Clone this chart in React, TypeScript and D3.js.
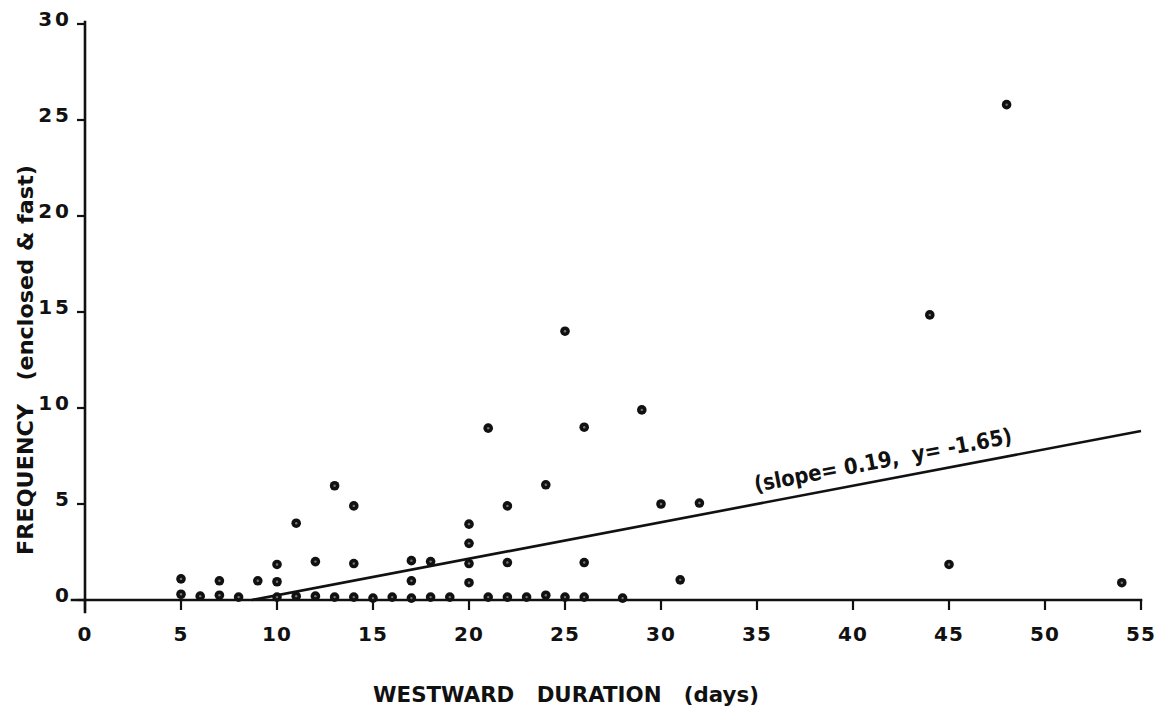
import React, { useEffect } from "react";
import * as d3 from "d3";

// Observed events: westward duration (days) and frequency (enclosed & fast)
const westwardDays = [
  5, 5, 6, 7, 7, 8, 9, 10, 10, 10, 11, 11, 12, 12, 13, 13, 14, 14, 14, 15, 16,
  17, 17, 17, 18, 18, 19, 20, 20, 20, 20, 21, 21, 22, 22, 22, 23, 24, 24, 25,
  25, 26, 26, 26, 28, 29, 30, 31, 32, 44, 45, 48, 54,
];
const frequency = [
  1.1, 0.3, 0.2, 1.0, 0.25, 0.15, 1.0, 1.85, 0.95, 0.15, 4.0, 0.2, 2.0, 0.2,
  5.95, 0.15, 4.9, 1.9, 0.15, 0.1, 0.15, 2.05, 1.0, 0.1, 2.0, 0.15, 0.15, 3.95,
  2.95, 1.9, 0.9, 8.95, 0.15, 4.9, 1.95, 0.15, 0.15, 6.0, 0.25, 14.0, 0.15, 9.0,
  1.95, 0.15, 0.1, 9.9, 5.0, 1.05, 5.05, 14.85, 1.85, 25.8, 0.9,
];

// Least-squares fit reported on the chart
const fitSlope = 0.19;
const fitIntercept = -1.65;
const fitLabel = "(slope= 0.19,  y= -1.65)";

const xTicks = [0, 5, 10, 15, 20, 25, 30, 35, 40, 45, 50, 55];
const yTicks = [0, 5, 10, 15, 20, 25, 30];

const xTitle = "WESTWARD   DURATION   (days)";
const yTitle = "FREQUENCY   (enclosed & fast)";

const W = 1164;
const H = 719;
const FONT = "'DejaVu Sans', Verdana, sans-serif";
const INK = "#111";

export default function App() {
  useEffect(() => {
    document.body.style.margin = "0";
  }, []);

  const x = d3.scaleLinear().domain([0, 55]).range([85, 1141]);
  const y = d3.scaleLinear().domain([0, 30]).range([600, 24]);

  // regression segment from its x-intercept to the right edge
  const xStart = -fitIntercept / fitSlope;
  const fitPts: [number, number][] = [
    [xStart, 0],
    [55, fitSlope * 55 + fitIntercept],
  ];
  const fitLine = d3
    .line<[number, number]>()
    .x((d) => x(d[0]))
    .y((d) => y(d[1]))(fitPts) as string;

  // label placement along the fit line
  const labelX0 = 35.05;
  const lx = x(labelX0);
  const ly = y(fitSlope * labelX0 + fitIntercept);
  const angle =
    (Math.atan2(y(fitSlope * 55) - y(0), x(55) - x(0)) * 180) / Math.PI;

  return (
    <svg
      width={W}
      height={H}
      viewBox={`0 0 ${W} ${H}`}
      style={{ display: "block", background: "#fff" }}
    >
      {/* axes */}
      <g stroke={INK} strokeWidth={2.6} strokeLinecap="square">
        <line x1={x(0) - 13} x2={x(55)} y1={y(0)} y2={y(0)} />
        <line x1={x(0)} x2={x(0)} y1={y(30) - 2} y2={y(0) + 12} />
      </g>
      {/* x ticks */}
      <g>
        {xTicks.map((t) => (
          <g key={`xt${t}`}>
            <line
              x1={x(t)}
              x2={x(t)}
              y1={y(0)}
              y2={y(0) + 10}
              stroke={INK}
              strokeWidth={2.2}
            />
            <text
              x={x(t)}
              y={y(0) + 41}
              textAnchor="middle"
              fontFamily={FONT}
              fontWeight="bold"
              fontSize={20}
              letterSpacing={1}
              fill={INK}
            >
              {t}
            </text>
          </g>
        ))}
      </g>
      {/* y ticks */}
      <g>
        {yTicks.map((t) => (
          <g key={`yt${t}`}>
            <line
              x1={x(0) - 8}
              x2={x(0)}
              y1={y(t)}
              y2={y(t)}
              stroke={INK}
              strokeWidth={2.2}
            />
            <text
              x={x(0) - 13}
              y={y(t) + 2}
              textAnchor="end"
              fontFamily={FONT}
              fontWeight="bold"
              fontSize={20}
              letterSpacing={3}
              fill={INK}
            >
              {t}
            </text>
          </g>
        ))}
      </g>

      {/* regression line */}
      <path d={fitLine} fill="none" stroke={INK} strokeWidth={2.6} />
      <text
        transform={`translate(${lx},${ly}) rotate(${angle}) translate(0,-12)`}
        fontFamily={FONT}
        fontWeight="bold"
        fontSize={22}
        textLength={262}
        lengthAdjust="spacingAndGlyphs"
        style={{ whiteSpace: "pre" }}
        fill={INK}
      >
        {fitLabel}
      </text>

      {/* observations */}
      <g>
        {westwardDays.map((d, i) => (
          <g key={`p${i}`}>
            <circle cx={x(d)} cy={y(frequency[i])} r={4.8} fill={INK} />
            <circle cx={x(d)} cy={y(frequency[i])} r={1.2} fill="#777" />
          </g>
        ))}
      </g>

      {/* axis titles */}
      <text
        x={373}
        y={702}
        fontFamily={FONT}
        fontWeight="bold"
        fontSize={21}
        textLength={386}
        lengthAdjust="spacingAndGlyphs"
        style={{ whiteSpace: "pre" }}
        fill={INK}
      >
        {xTitle}
      </text>
      <text
        transform={`translate(33,555) rotate(-90)`}
        fontFamily={FONT}
        fontWeight="bold"
        fontSize={21}
        textLength={390}
        lengthAdjust="spacingAndGlyphs"
        style={{ whiteSpace: "pre" }}
        fill={INK}
      >
        {yTitle}
      </text>
    </svg>
  );
}
